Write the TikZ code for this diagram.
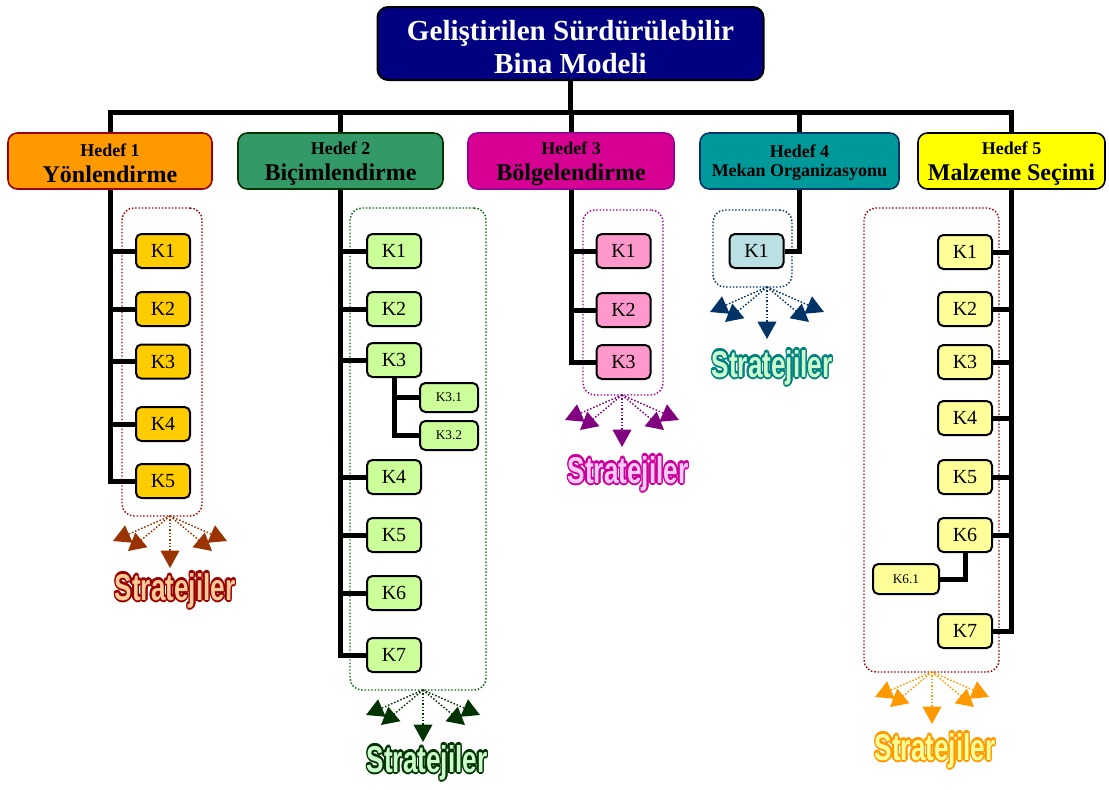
\documentclass[tikz,border=0pt]{standalone}
\usepackage{fontspec}
\setmainfont{Liberation Serif}
\newfontfamily\stratfont{Liberation Sans}
\usepackage{contour}
\contourlength{1.6pt}
\usetikzlibrary{arrows.meta}

\definecolor{titlebg}{RGB}{0,0,128}
\definecolor{hdorange}{RGB}{255,153,0}
\definecolor{hdgreen}{RGB}{51,153,102}
\definecolor{hdmagenta}{RGB}{214,0,147}
\definecolor{hdteal}{RGB}{0,153,153}
\definecolor{hdyellow}{RGB}{255,255,0}
\definecolor{kgold}{RGB}{255,204,0}
\definecolor{klime}{RGB}{204,255,153}
\definecolor{kpink}{RGB}{255,153,204}
\definecolor{kice}{RGB}{187,224,227}
\definecolor{kcream}{RGB}{255,255,153}
\definecolor{darkred}{RGB}{153,0,0}
\definecolor{rust}{RGB}{153,51,0}
\definecolor{peach}{RGB}{255,204,153}
\definecolor{forest}{RGB}{0,51,0}
\definecolor{leaf}{RGB}{0,102,0}
\definecolor{mint}{RGB}{204,255,204}
\definecolor{plum}{RGB}{128,0,128}
\definecolor{orchid}{RGB}{153,0,153}
\definecolor{rosy}{RGB}{255,204,255}
\definecolor{deepmag}{RGB}{204,0,153}
\definecolor{navyblue}{RGB}{0,51,102}
\definecolor{tealtxt}{RGB}{0,128,128}
\definecolor{amber}{RGB}{255,153,0}

% goal box caption: small first line, large second line
\newcommand{\hdcap}[2]{{\fontsize{13.5}{19.5}\selectfont\rule{0pt}{13pt}#1}\\#2}

\tikzset{
  trunk/.style={line width=3.75pt},
  topbox/.style={draw, fill=titlebg, text=white, line width=1.5pt, rounded corners=8pt,
    minimum width=289.5pt, minimum height=54.75pt, align=center, inner sep=0pt,
    font=\fontsize{21.8}{24.75}\selectfont\bfseries},
  hedef/.style={draw, line width=1.2pt, rounded corners=7pt, minimum height=42pt,
    align=center, inner sep=0pt, font=\fontsize{18}{19.5}\selectfont\bfseries},
  kbox/.style={draw, line width=1.5pt, rounded corners=4pt, minimum width=40.5pt,
    minimum height=25.5pt, inner sep=0pt, font=\fontsize{15}{15}\selectfont},
  subk/.style={kbox, minimum width=43.5pt, minimum height=21.75pt, font=\fontsize{10}{10}\selectfont},
  stratframe/.style={draw, line width=1.1pt, dash pattern=on 1.1pt off 1.4pt,
    rounded corners=9pt, inner sep=0pt},
  fanarrow/.style={line width=1.1pt, dash pattern=on 1.1pt off 1.4pt,
    -{Triangle[length=13pt,width=14pt]}},
  stratlabel/.style={anchor=base, xscale=0.7, inner sep=0pt,
    font=\stratfont\bfseries\fontsize{28}{28}\selectfont},
}

\begin{document}
\begin{tikzpicture}[x=0.75pt,y=-0.75pt]
\useasboundingbox (0,0) rectangle (1109,789);

%Title
\node[topbox] (top) at (570.5,43.5) {\rule{0pt}{20pt}Geliştirilen Sürdürülebilir\\Bina Modeli};

%Goals
\node[hedef, fill=hdorange, draw=darkred, minimum width=153pt] (h1) at (110,161)
  {\hdcap{Hedef 1}{Yönlendirme}};
\node[hedef, fill=hdgreen, draw=forest, minimum width=153.75pt] (h2) at (340.5,161)
  {\hdcap{Hedef 2}{Biçimlendirme}};
\node[hedef, fill=hdmagenta, draw=orchid, minimum width=154.5pt] (h3) at (571,161)
  {\hdcap{Hedef 3}{Bölgelendirme}};
\node[hedef, fill=hdteal, draw=navyblue, minimum width=149.25pt,
  font=\fontsize{13.5}{14.5}\selectfont\bfseries] (h4) at (799.5,161)
  {\rule{0pt}{12pt}Hedef 4\\Mekan Organizasyonu};
\node[hedef, fill=hdyellow, draw=black, minimum width=140.25pt] (h5) at (1011.5,161)
  {\hdcap{Hedef 5}{Malzeme Seçimi}};

%Bus
\coordinate (busL) at (110,112);
\draw[trunk] (h1.north) -- (h1.north |- busL) -- (h5.north |- busL) -- (h5.north);
\draw[trunk] (top.south) -- (top.south |- busL);
\foreach \h in {h2,h3,h4}
  \draw[trunk] (\h.north) -- (\h.north |- busL);

%Strategy frames
\node[stratframe, draw=darkred, minimum width=60pt, minimum height=231pt] (s1) at (162,362) {};
\node[stratframe, draw=leaf, minimum width=102pt, minimum height=361.5pt] (s2) at (418,449) {};
\node[stratframe, draw=orchid, minimum width=60pt, minimum height=138.75pt] (s3) at (623,302.5) {};
\node[stratframe, draw=navyblue, minimum width=59.25pt, minimum height=57.75pt] (s4) at (752.5,248.5) {};
\node[stratframe, draw=darkred, minimum width=101.25pt, minimum height=348pt] (s5) at (931.5,440) {};

%Criteria, goal 1
\foreach \i/\y in {1/251,2/309,3/361.5,4/424,5/481}
  \node[kbox, fill=kgold] (k1\i) at (163,\y) {K\i};
\foreach \i in {1,...,5}
  \draw[trunk] (h1.south) |- (k1\i.west);

%Criteria, goal 2
\foreach \i/\y in {1/251,2/309,3/360,4/477,5/535,6/593,7/655}
  \node[kbox, fill=klime] (k2\i) at (394,\y) {K\i};
\foreach \i in {1,...,7}
  \draw[trunk] (h2.south) |- (k2\i.west);
\node[subk, fill=klime] (k23a) at (449,397.5) {K3.1};
\node[subk, fill=klime] (k23b) at (449,435.5) {K3.2};
\draw[trunk] (k23.south) |- (k23a.west);
\draw[trunk] (k23.south) |- (k23b.west);

%Criteria, goal 3
\foreach \i/\y in {1/251,2/310,3/362}
  \node[kbox, fill=kpink] (k3\i) at (623.5,\y) {K\i};
\foreach \i in {1,...,3}
  \draw[trunk] (h3.south) |- (k3\i.west);

%Criteria, goal 4
\node[kbox, fill=kice] (k41) at (756.5,251) {K1};
\draw[trunk] (h4.south) |- (k41.east);

%Criteria, goal 5
\foreach \i/\y in {1/252,2/309,3/362,4/418,5/477,6/535,7/631}
  \node[kbox, fill=kcream] (k5\i) at (965,\y) {K\i};
\foreach \i in {1,...,7}
  \draw[trunk] (h5.south) |- (k5\i.east);
\node[subk, fill=kcream, minimum width=49.5pt, minimum height=22.5pt] (k56a) at (906,579) {K6.1};
\draw[trunk] (k56.south) |- (k56a.east);

%Strategy fans
\coordinate (f1) at (170,516);
\coordinate (f2) at (423,690);
\coordinate (f3) at (622,395);
\coordinate (f4) at (767,287);
\coordinate (f5) at (932,672);
\foreach \f/\col in {f1/rust,f2/forest,f3/plum,f4/navyblue,f5/amber}
  \foreach \dx/\dy in {-57/25,-42/35,0/52,42/35,57/25}
    \draw[fanarrow, \col] (\f) -- ++(\dx,\dy);

%Strategy labels
\node[stratlabel, text=peach] (st1) at (175,600) {\contour{darkred}{Stratejiler}};
\node[stratlabel, text=mint] (st2) at (427,772) {\contour{forest}{Stratejiler}};
\node[stratlabel, text=rosy] (st3) at (628,483) {\contour{deepmag}{Stratejiler}};
\node[stratlabel, text=mint] (st4) at (772,377) {\contour{tealtxt}{Stratejiler}};
\node[stratlabel, text=kcream] (st5) at (935,760) {\contour{amber}{Stratejiler}};

\end{tikzpicture}
\end{document}
